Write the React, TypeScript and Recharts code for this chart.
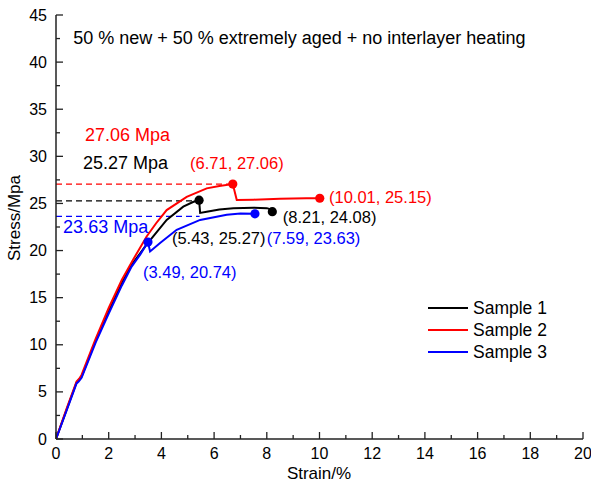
import {
  LineChart,
  Line,
  XAxis,
  YAxis,
  ReferenceLine,
  ReferenceDot,
  Label,
} from "recharts";

const FONT = "'Liberation Sans', Arial, sans-serif";

// stress-strain curves, [strain %, stress MPa]
const sample1: [number, number][] = [
  [0, 0], [0.4, 3.1], [0.78, 6.0], [0.86, 6.25], [0.97, 6.6], [1.5, 10.4],
  [2, 13.6], [2.5, 16.6], [2.85, 18.4], [3.06, 19.2], [3.4, 20.5], [3.69, 21.5],
  [4.2, 23.25], [4.83, 24.66], [5.2, 25.15], [5.43, 25.35], [5.47, 24.0],
  [5.72, 24.13], [6.2, 24.35], [6.73, 24.5], [7.5, 24.55], [8.0, 24.5],
  [8.12, 24.4], [8.21, 24.13],
];
const sample2: [number, number][] = [
  [0, 0], [0.4, 3.2], [0.78, 6.1], [0.88, 6.4], [0.97, 6.8], [1.5, 10.6],
  [2, 13.9], [2.5, 16.9], [2.92, 19.0], [3.44, 21.5], [3.8, 22.9], [4.2, 24.3],
  [4.96, 25.7], [5.72, 26.6], [6.2, 26.85], [6.71, 27.06], [6.86, 25.37],
  [7.5, 25.4], [8.5, 25.5], [9.5, 25.55], [10.01, 25.55],
];
const sample3: [number, number][] = [
  [0, 0], [0.4, 3.0], [0.78, 5.9], [0.86, 6.1], [0.97, 6.5], [1.5, 10.2],
  [2, 13.3], [2.5, 16.3], [2.87, 18.3], [3.2, 19.6], [3.49, 20.9], [3.57, 19.9],
  [3.95, 20.8], [4.58, 22.2], [5.47, 23.25], [6.48, 23.8], [7.0, 23.92],
  [7.55, 23.9],
];

// strains where a marker dot is drawn
const marks1 = [5.43, 8.21];
const marks2 = [6.71, 10.01];
const marks3 = [3.49, 7.55];

const seriesNames = ["Sample 1", "Sample 2", "Sample 3"];
const seriesColors = ["#000000", "#ff0000", "#0000ff"];

// dashed strength levels: [stress, strain where dash ends]
const levels: [number, number][] = [
  [27.06, 6.71],
  [25.27, 5.43],
  [23.63, 5.45],
];
const levelColors = ["#ff0000", "#000000", "#0000ff"];

const xTicks = [0, 1, 2, 3, 4, 5, 6, 7, 8, 9, 10, 11, 12, 13, 14, 15, 16, 17, 18, 19, 20];
const yTicks = [0, 2.5, 5, 7.5, 10, 12.5, 15, 17.5, 20, 22.5, 25, 27.5, 30, 32.5, 35, 37.5, 40, 42.5, 45];

// text notes placed in data coordinates
const notes = [
  { x: 0.65, y: 42.55, text: "50 % new + 50 % extremely aged + no interlayer heating", color: "#000", size: 18 },
  { x: 1.1, y: 32.27, text: "27.06 Mpa", color: "#ff0000", size: 18 },
  { x: 1.02, y: 29.3, text: "25.27 Mpa", color: "#000", size: 18 },
  { x: 0.27, y: 22.5, text: "23.63 Mpa", color: "#0000ff", size: 18 },
  { x: 5.09, y: 29.3, text: "(6.71, 27.06)", color: "#ff0000", size: 16.5 },
  { x: 10.36, y: 25.7, text: "(10.01, 25.15)", color: "#ff0000", size: 16.5 },
  { x: 8.61, y: 23.57, text: "(8.21, 24.08)", color: "#000", size: 16.5 },
  { x: 4.4, y: 21.3, text: "(5.43, 25.27)", color: "#000", size: 16.5 },
  { x: 8.0, y: 21.3, text: "(7.59, 23.63)", color: "#0000ff", size: 16.5 },
  { x: 3.3, y: 17.7, text: "(3.49, 20.74)", color: "#0000ff", size: 16.5 },
];

const toRows = (pts: [number, number][], marks: number[]) =>
  pts.map(([x, y]) => ({ x, y, mark: marks.includes(x) }));

const series = [toRows(sample1, marks1), toRows(sample2, marks2), toRows(sample3, marks3)];

const AXIS = "#222";

function XTick({ x, y, payload }: any) {
  const major = payload.value % 2 === 0;
  return (
    <g>
      <line x1={x} x2={x} y1={y} y2={y - (major ? 7 : 4)} stroke={AXIS} strokeWidth={1.3} />
      {major && (
        <text x={x} y={y + 20} textAnchor="middle" fontSize={16} fontFamily={FONT} fill="#000">
          {payload.value}
        </text>
      )}
    </g>
  );
}

function YTick({ x, y, payload }: any) {
  const major = payload.value % 5 === 0;
  return (
    <g>
      <line x1={x} x2={x + (major ? 7 : 4)} y1={y} y2={y} stroke={AXIS} strokeWidth={1.3} />
      {major && (
        <text x={x - 9} y={y + 5.5} textAnchor="end" fontSize={16} fontFamily={FONT} fill="#000">
          {payload.value}
        </text>
      )}
    </g>
  );
}

function MarkDot(color: string) {
  return (p: any) => {
    if (!p.payload?.mark) return <g key={p.index} />;
    return <circle key={p.index} cx={p.cx} cy={p.cy} r={4.6} fill={color} />;
  };
}

function SeriesLegend() {
  return (
    <div
      style={{
        position: "absolute",
        left: 428,
        top: 297,
        fontFamily: FONT,
        fontSize: 17.5,
      }}
    >
      {seriesNames.map((n, i) => (
        <div key={n} style={{ display: "flex", alignItems: "center", height: 22 }}>
          <svg width={45} height={22}>
            <line x1={0} x2={40} y1={11} y2={11} stroke={seriesColors[i]} strokeWidth={2} />
          </svg>
          <span style={{ color: "#000" }}>{n}</span>
        </div>
      ))}
    </div>
  );
}

export default function App() {
  return (
    <div style={{ position: "absolute", left: 0, top: 0, width: 591, height: 487, background: "#fff" }}>
      <LineChart
        width={591}
        height={487}
        margin={{ top: 15, right: 8, bottom: 0, left: 6 }}
      >
        <XAxis
          type="number"
          dataKey="x"
          domain={[0, 20]}
          ticks={xTicks}
          interval={0}
          tickSize={0}
          tickMargin={0}
          tick={<XTick />}
          height={48}
          axisLine={{ stroke: AXIS, strokeWidth: 1.5 }}
          tickLine={false}
          allowDataOverflow
        >
          <Label
            content={() => (
              <text x={319} y={479} textAnchor="middle" fontSize={17} fontFamily={FONT} fill="#000">
                Strain/%
              </text>
            )}
          />
        </XAxis>
        <XAxis
          xAxisId="top"
          orientation="top"
          type="number"
          domain={[0, 20]}
          height={0}
          tick={false}
          tickLine={false}
          axisLine={{ stroke: AXIS, strokeWidth: 1.5 }}
        />
        <YAxis
          type="number"
          domain={[0, 45]}
          ticks={yTicks}
          interval={0}
          tickSize={0}
          tickMargin={0}
          tick={<YTick />}
          width={50}
          axisLine={{ stroke: AXIS, strokeWidth: 1.5 }}
          tickLine={false}
          allowDataOverflow
        >
          <Label
            content={() => (
              <text
                x={20}
                y={218}
                transform="rotate(-90 20 218)"
                textAnchor="middle"
                fontSize={17}
                fontFamily={FONT}
                fill="#000"
              >
                Stress/Mpa
              </text>
            )}
          />
        </YAxis>
        <YAxis
          yAxisId="right"
          orientation="right"
          type="number"
          domain={[0, 45]}
          width={0}
          tick={false}
          tickLine={false}
          axisLine={{ stroke: AXIS, strokeWidth: 1.5 }}
        />

        {levels.map(([v, end], i) => (
          <ReferenceLine
            key={v}
            segment={[
              { x: 0, y: v },
              { x: end, y: v },
            ]}
            stroke={levelColors[i]}
            strokeWidth={1.3}
            strokeDasharray="6 4"
          />
        ))}

        {series.map((rows, i) => (
          <Line
            key={seriesNames[i]}
            data={rows}
            dataKey="y"
            name={seriesNames[i]}
            type="linear"
            stroke={seriesColors[i]}
            strokeWidth={2}
            dot={MarkDot(seriesColors[i])}
            activeDot={false}
            isAnimationActive={false}
          />
        ))}

        {notes.map((n) => (
          <ReferenceDot
            key={n.text}
            x={n.x}
            y={n.y}
            r={0}
            stroke="none"
            fill="none"
            label={{
              content: (props: any) => {
                const vb = props.viewBox || {};
                const cx = vb.x + (vb.width || 0) / 2;
                const cy = vb.y + (vb.height || 0) / 2;
                return (
                  <text
                    x={cx}
                    y={cy}
                    dominantBaseline="central"
                    textAnchor="start"
                    fontSize={n.size}
                    fontFamily={FONT}
                    fill={n.color}
                  >
                    {n.text}
                  </text>
                );
              },
            }}
          />
        ))}
      </LineChart>
      <SeriesLegend />
    </div>
  );
}
